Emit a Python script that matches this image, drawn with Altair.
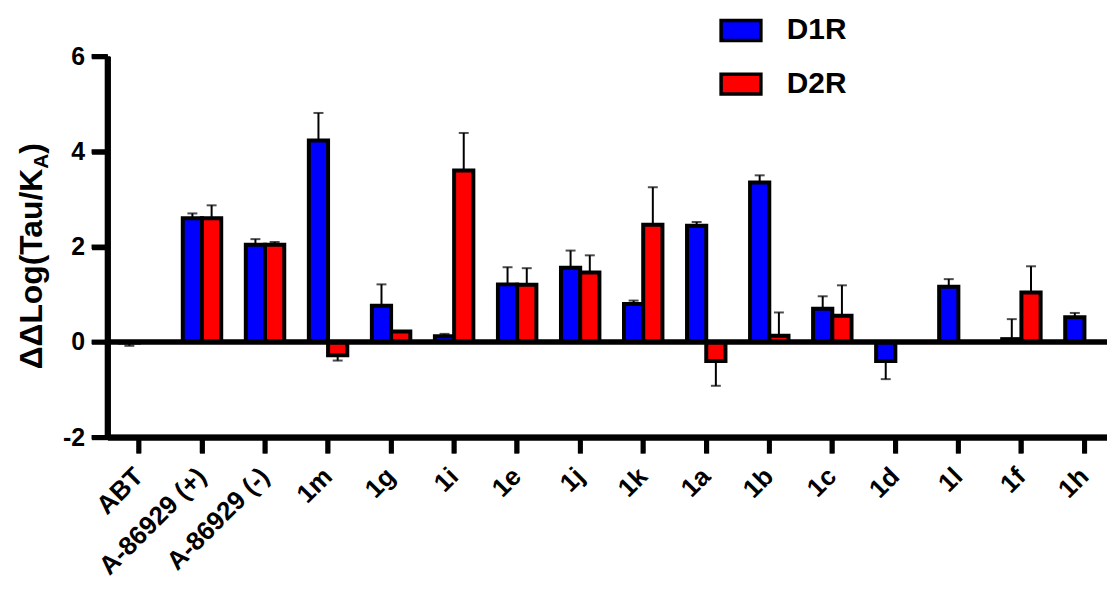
import altair as alt
import pandas as pd

compounds = ["ABT", "A-86929 (+)", "A-86929 (-)", "1m", "1g", "1i", "1e", "1j",
             "1k", "1a", "1b", "1c", "1d", "1l", "1f", "1h"]
receptors = ["D1R", "D2R"]
d1r_mean = [-0.01, 2.60, 2.04, 4.23, 0.76, 0.12, 1.21, 1.56, 0.80, 2.44, 3.35, 0.70, -0.40, 1.16, 0.06, 0.52]
d1r_err = [0.07, 0.10, 0.12, 0.58, 0.45, 0.05, 0.36, 0.36, 0.07, 0.08, 0.15, 0.26, 0.38, 0.16, 0.42, 0.09]
d2r_mean = [0.0, 2.60, 2.04, -0.28, 0.22, 3.60, 1.20, 1.46, 2.46, -0.40, 0.13, 0.55, None, None, 1.04, None]
d2r_err = [0.0, 0.27, 0.06, 0.11, 0.0, 0.79, 0.35, 0.36, 0.79, 0.52, 0.49, 0.64, None, None, 0.55, None]
colors = ["#0000FF", "#FF0000"]
y_ticks = [-2, 0, 2, 4, 6]

rows = []
for i, c in enumerate(compounds):
    for r, m, e in (("D1R", d1r_mean[i], d1r_err[i]), ("D2R", d2r_mean[i], d2r_err[i])):
        if m is None:
            continue
        sign = 1 if m >= 0 else -1
        rows.append({"compound": c, "receptor": r, "value": m, "end": m + sign * e})
df = pd.DataFrame(rows)

FONT = "Liberation Sans"
STEP_RANGE = [0, 1014]
H = 383

x_enc = alt.X("compound:N", sort=compounds, title=None,
              scale=alt.Scale(range=STEP_RANGE, paddingInner=0.39, paddingOuter=0.195),
              axis=alt.Axis(labelAngle=-45, labelAlign="right", labelBaseline="middle",
                            tickWidth=5, domainWidth=6))
xo = alt.XOffset("receptor:N", sort=receptors)
y_scale = alt.Scale(domain=[-2, 6], nice=False)

base = alt.Chart(df)

bars = base.mark_bar(stroke="black", strokeWidth=4).encode(
    x=x_enc,
    xOffset=xo,
    y=alt.Y("value:Q", scale=y_scale, title=None,
            axis=alt.Axis(values=y_ticks, labelExpr="datum.value", grid=False,
                          tickWidth=5, domainWidth=6)),
    color=alt.Color("receptor:N", sort=receptors,
                    scale=alt.Scale(domain=receptors, range=colors),
                    legend=alt.Legend(title=None, orient="none", legendX=615, legendY=-48,
                                      symbolType="M-1,-0.5H1V0.5H-1Z", symbolSize=1600,
                                      symbolStrokeColor="black", symbolStrokeWidth=3.5,
                                      symbolOpacity=1, labelFontSize=30, labelFont=FONT,
                                      labelFontWeight="bold", labelColor="black",
                                      labelOffset=24, rowPadding=15)),
)

err_line = base.mark_rule(color="black", strokeWidth=2).encode(
    x=alt.X("compound:N", sort=compounds),
    xOffset=xo,
    y=alt.Y("value:Q", scale=y_scale),
    y2="end:Q",
)

err_cap = base.mark_tick(color="black", thickness=2, size=10, orient="horizontal").encode(
    x=alt.X("compound:N", sort=compounds),
    xOffset=xo,
    y=alt.Y("end:Q", scale=y_scale),
)

zero = alt.Chart(pd.DataFrame({"z": [0]})).mark_rule(color="black", strokeWidth=5.5).encode(
    y=alt.Y("z:Q", scale=y_scale),
    x=alt.value(0),
    x2=alt.value(STEP_RANGE[1]),
)

# heavy axis lines and ticks (Prism style)
y_dom = alt.Chart(pd.DataFrame({"lo": [-2], "hi": [6]})).mark_rule(
    color="black", strokeWidth=5.5).encode(
    x=alt.value(0), y=alt.Y("lo:Q", scale=y_scale), y2="hi:Q")
x_dom = alt.Chart(pd.DataFrame({"lo": [-2]})).mark_rule(
    color="black", strokeWidth=5.5).encode(
    y=alt.Y("lo:Q", scale=y_scale), x=alt.value(-2.5), x2=alt.value(STEP_RANGE[1]))
y_tk = alt.Chart(pd.DataFrame({"t": y_ticks})).mark_rule(
    color="black", strokeWidth=4.5).encode(
    y=alt.Y("t:Q", scale=y_scale), x=alt.value(-16), x2=alt.value(0))
x_tk = alt.Chart(pd.DataFrame({"compound": compounds})).mark_rule(
    color="black", strokeWidth=4.5).encode(
    x=alt.X("compound:N", sort=compounds, bandPosition=0.5),
    y=alt.value(H), y2=alt.value(H + 16))

title_df = pd.DataFrame({"t": ["main"]})
title_main = alt.Chart(title_df).mark_text(
    text="ΔΔLog(Tau/K", angle=270, align="right", baseline="alphabetic",
    font=FONT, fontWeight="bold", fontSize=32, color="black"
).encode(x=alt.value(-66), y=alt.value(113))
title_sub = alt.Chart(title_df).mark_text(
    text="A", angle=270, align="left", baseline="alphabetic",
    font=FONT, fontWeight="bold", fontSize=21, color="black"
).encode(x=alt.value(-60), y=alt.value(113))
title_end = alt.Chart(title_df).mark_text(
    text=")", angle=270, align="left", baseline="alphabetic",
    font=FONT, fontWeight="bold", fontSize=32, color="black"
).encode(x=alt.value(-66), y=alt.value(98))

chart = alt.layer(bars, err_line, err_cap, zero, y_dom, x_dom, y_tk, x_tk,
                  title_main, title_sub, title_end).properties(
    width=1005, height=H,
    padding={"left": 100, "top": 47, "right": 0, "bottom": 142},
    autosize=alt.AutoSizeParams(type="none"),
).configure_view(
    stroke=None
).configure_axis(
    labelFont=FONT, labelFontWeight="bold", labelColor="black",
    tickSize=16, tickWidth=5, tickColor="black",
    domainWidth=6, domainColor="black", grid=False,
).configure_axisY(
    labelFontSize=25, labelPadding=7,
).configure_axisX(
    labelFontSize=26, labelPadding=19,
)

chart.save("out.html", embed_options={"renderer": "svg", "actions": False})
